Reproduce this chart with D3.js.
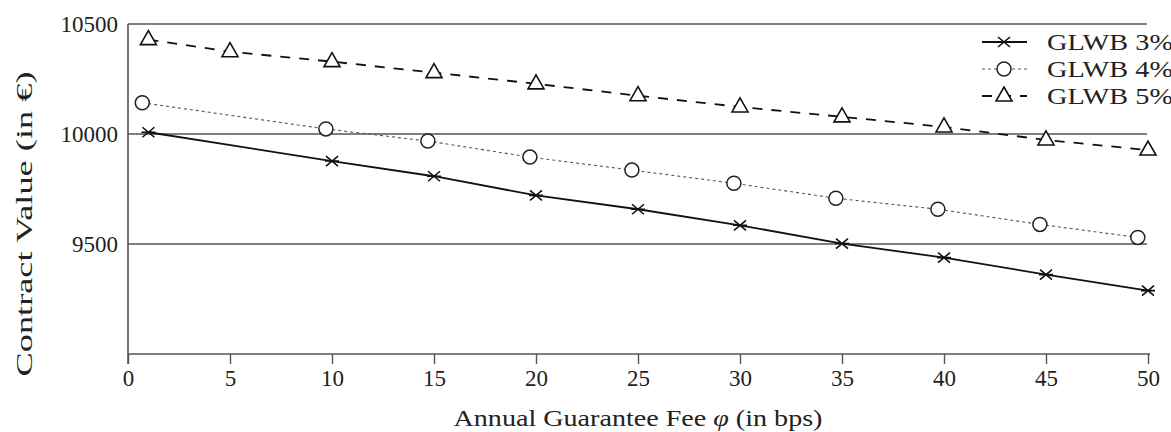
<!DOCTYPE html>
<html>
<head>
<meta charset="utf-8">
<script src="https://cdn.jsdelivr.net/npm/d3@7"></script>
<style>
  body { margin: 0; background: #fff; }
</style>
</head>
<body>
<svg id="chart" width="1171" height="432"></svg>
<script>
// fee (bps) and contract values
const fee3 = [1, 10, 15, 20, 25, 30, 35, 40, 45, 50];
const val3 = [10008, 9877, 9808, 9721, 9658, 9585, 9502, 9438, 9361, 9288];

const fee4 = [0.7, 9.7, 14.7, 19.7, 24.7, 29.7, 34.7, 39.7, 44.7, 49.5];
const val4 = [10142, 10023, 9968, 9895, 9836, 9776, 9708, 9658, 9589, 9530];

const fee5 = [1, 5, 10, 15, 20, 25, 30, 35, 40, 45, 50];
const val5 = [10429, 10374, 10329, 10279, 10228, 10174, 10123, 10078, 10032, 9973, 9927];

const xTicks = [0, 5, 10, 15, 20, 25, 30, 35, 40, 45, 50];
const yTicks = [9500, 10000, 10500];
const seriesNames = ["GLWB 3%", "GLWB 4%", "GLWB 5%"];

const serif = "'Liberation Serif', 'Times New Roman', Times, serif";

const svg = d3.select("#chart");
const x = d3.scaleLinear().domain([0, 50]).range([128, 1148]);
const y = d3.scaleLinear().domain([9000, 10500]).range([354, 24]);

// horizontal grid lines (top one doubles as frame)
svg.append("g").selectAll("line")
    .data(yTicks)
    .enter().append("line")
    .attr("x1", x(0)).attr("x2", 1147)
    .attr("y1", d => y(d)).attr("y2", d => y(d))
    .attr("stroke", "#555").attr("stroke-width", 1.6);

// x axis
const xAxis = svg.append("g")
    .attr("transform", "translate(0," + y(9000) + ")")
    .call(d3.axisBottom(x).tickValues(xTicks).tickSize(10).tickPadding(6).tickSizeOuter(0));
xAxis.attr("font-family", null).attr("font-size", null);
xAxis.select(".domain").attr("stroke", "#555").attr("stroke-width", 1.6)
    .attr("d", "M" + x(0) + ",0H1150");
xAxis.selectAll(".tick line").attr("stroke", "#555").attr("stroke-width", 1.4);
xAxis.selectAll(".tick text")
    .style("font-family", serif).style("font-size", "23px").attr("fill", "#222");

// y axis line
svg.append("line")
    .attr("x1", x(0)).attr("x2", x(0))
    .attr("y1", y(10500)).attr("y2", y(9000) + 10)
    .attr("stroke", "#555").attr("stroke-width", 1.6);

svg.append("g").selectAll("text")
    .data(yTicks)
    .enter().append("text")
    .attr("x", 118).attr("y", d => y(d) + 8)
    .attr("text-anchor", "end")
    .style("font-family", serif).style("font-size", "23px")
    .attr("fill", "#222")
    .text(d => d);

// axis titles
svg.append("text")
    .attr("x", 638).attr("y", 426)
    .attr("text-anchor", "middle")
    .style("font-family", serif).style("font-size", "24px")
    .attr("fill", "#222")
    .attr("textLength", 369).attr("lengthAdjust", "spacingAndGlyphs")
    .html("Annual Guarantee Fee <tspan font-style='italic'>φ</tspan> (in bps)");

svg.append("text")
    .attr("transform", "translate(32,224) rotate(-90)")
    .attr("text-anchor", "middle")
    .style("font-family", serif).style("font-size", "23px")
    .attr("fill", "#222")
    .attr("textLength", 305).attr("lengthAdjust", "spacingAndGlyphs")
    .text("Contract Value (in €)");

const series = [
    {name: seriesNames[0], fee: fee3, val: val3, dash: null, width: 1.8, color: "#111", marker: "cross"},
    {name: seriesNames[1], fee: fee4, val: val4, dash: "3,3", width: 1.1, color: "#555", marker: "circle"},
    {name: seriesNames[2], fee: fee5, val: val5, dash: "10,9", width: 1.8, color: "#111", marker: "triangle"}
];

const line = d3.line().x(d => x(d[0])).y(d => y(d[1]));

function drawMarker(g, type) {
    if (type === "cross") {
        g.append("path").attr("d", "M-6,-5L6,5M-6,5L6,-5M-7,0H7")
            .attr("stroke", "#111").attr("stroke-width", 1.6).attr("fill", "none");
    } else if (type === "circle") {
        g.append("circle").attr("r", 7)
            .attr("stroke", "#222").attr("stroke-width", 1.5).attr("fill", "#fff");
    } else {
        g.append("path").attr("d", "M0,-9L8,5H-8Z")
            .attr("stroke", "#111").attr("stroke-width", 1.6).attr("fill", "#fff");
    }
}

series.forEach(s => {
    const pts = s.fee.map((f, i) => [f, s.val[i]]);
    svg.append("path")
        .datum(pts)
        .attr("d", line)
        .attr("fill", "none")
        .attr("stroke", s.color)
        .attr("stroke-width", s.width)
        .attr("stroke-dasharray", s.dash);
    pts.forEach(p => {
        const g = svg.append("g").attr("transform", "translate(" + x(p[0]) + "," + y(p[1]) + ")");
        drawMarker(g, s.marker);
    });
});

// legend
const legend = svg.append("g");
series.forEach((s, i) => {
    const ly = 42 + i * 27;
    legend.append("line")
        .attr("x1", 982).attr("x2", 1027)
        .attr("y1", ly).attr("y2", ly)
        .attr("stroke", s.color).attr("stroke-width", s.width)
        .attr("stroke-dasharray", s.dash);
    const g = legend.append("g").attr("transform", "translate(1004," + ly + ")");
    drawMarker(g, s.marker);
    legend.append("text")
        .attr("x", 1047).attr("y", ly + 8)
        .style("font-family", serif).style("font-size", "23px")
        .attr("fill", "#222")
        .attr("textLength", 126).attr("lengthAdjust", "spacingAndGlyphs")
        .text(s.name);
});
</script>
</body>
</html>
